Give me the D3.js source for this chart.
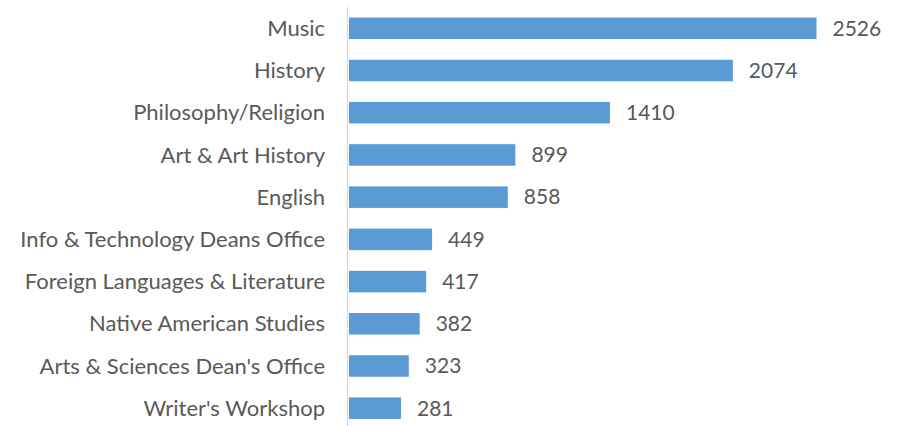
<!DOCTYPE html>
<html>
<head>
<meta charset="utf-8">
<script src="https://cdn.jsdelivr.net/npm/d3@7"></script>
<style>
  html, body { margin: 0; padding: 0; background: #fff; }
  svg { display: block; }
  text { font-family: Lato, "Open Sans", sans-serif; fill: #595959; }
</style>
</head>
<body>
<svg id="chart" width="901" height="426"></svg>
<script>
const categories = [
  "Music",
  "History",
  "Philosophy/Religion",
  "Art & Art History",
  "English",
  "Info & Technology Deans Office",
  "Foreign Languages & Literature",
  "Native American Studies",
  "Arts & Sciences Dean's Office",
  "Writer's Workshop"
];
const values = [2526, 2074, 1410, 899, 858, 449, 417, 382, 323, 281];

const svg = d3.select("#chart");
const x0 = 349;
const x = d3.scaleLinear().domain([0, 2526]).range([x0, 816.5]);
const y = d3.scaleBand().domain(categories).range([7.2, 429.3]).paddingInner(0.49).paddingOuter(0.245);

const data = categories.map((c, i) => ({ c, v: values[i] }));

svg.append("g").selectAll("rect").data(data).join("rect")
  .attr("x", x(0))
  .attr("y", d => y(d.c))
  .attr("width", d => x(d.v) - x(0))
  .attr("height", y.bandwidth())
  .attr("fill", "#5b9bd5");

// axis line
svg.append("line")
  .attr("x1", 347.5).attr("x2", 347.5)
  .attr("y1", 7).attr("y2", 426)
  .attr("stroke", "#d9d9d9").attr("stroke-width", 1.3);

// category labels
svg.append("g").selectAll("text").data(data).join("text")
  .attr("x", 325)
  .attr("y", d => y(d.c) + y.bandwidth() / 2)
  .attr("dy", "0.35em")
  .attr("text-anchor", "end")
  .attr("font-size", 22)
  .text(d => d.c);

// value labels
svg.append("g").selectAll("text").data(data).join("text")
  .attr("x", d => x(d.v) + 16)
  .attr("y", d => y(d.c) + y.bandwidth() / 2)
  .attr("dy", "0.35em")
  .attr("text-anchor", "start")
  .attr("font-size", 21)
  .text(d => d.v);
</script>
</body>
</html>
